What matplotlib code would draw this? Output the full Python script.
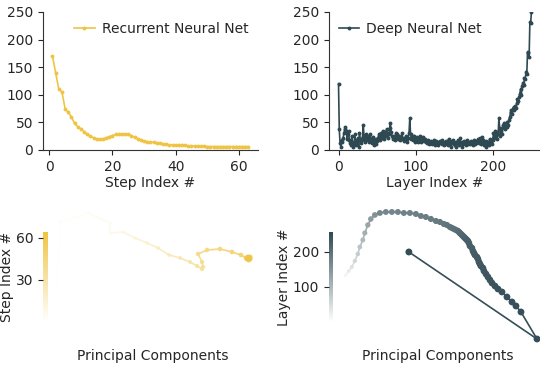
import numpy as np
import matplotlib
matplotlib.use('Agg')
import matplotlib.pyplot as plt
from matplotlib.collections import LineCollection
from matplotlib.colors import LinearSegmentedColormap, Normalize
from matplotlib.cm import ScalarMappable

rnn_color = '#efc445'
dnn_color = '#2f4953'

# step sizes of the recurrent net (steps 1..63)
rnn_steps = list(range(1, 64))
rnn_dist = [170, 140, 110, 105, 75, 68, 60, 48, 42, 38,
            33, 28, 25, 22, 20, 19, 20, 22, 24, 26,
            28, 29, 29, 29, 28, 26, 23, 20, 18, 16,
            15, 14, 14, 13, 12, 11, 10, 9, 9, 8,
            8, 8, 8, 7, 7, 7, 7, 7, 7, 6,
            6, 6, 6, 6, 6, 6, 6, 6, 6, 6,
            6, 6, 6]

# step sizes of the deep net (layers 0..249)
dnn_layers = list(range(250))
dnn_dist = [120, 37, 12, 6, 18, 15, 22, 30, 38, 41,
            35, 20, 28, 34, 18, 12, 8, 25, 14, 5,
            10, 28, 18, 8, 14, 22, 6, 30, 20, 12,
            18, 24, 45, 22, 15, 28, 18, 20, 25, 14,
            22, 28, 16, 12, 24, 18, 8, 14, 10, 20,
            16, 22, 28, 18, 25, 30, 22, 35, 28, 20,
            32, 26, 38, 30, 22, 28, 40, 48, 32, 25,
            20, 26, 22, 18, 30, 24, 28, 20, 25, 22,
            18, 24, 30, 20, 16, 22, 18, 25, 20, 15,
            22, 30, 58, 28, 20, 25, 18, 22, 26, 14,
            18, 24, 20, 15, 22, 26, 18, 14, 20, 24,
            16, 20, 18, 14, 12, 16, 18, 10, 14, 16,
            12, 10, 14, 18, 8, 12, 16, 10, 14, 8,
            12, 16, 14, 10, 18, 12, 8, 14, 10, 16,
            12, 8, 20, 14, 10, 6, 16, 12, 18, 10,
            8, 14, 6, 12, 18, 10, 8, 22, 12, 14,
            6, 10, 16, 12, 8, 14, 18, 10, 12, 14,
            10, 16, 12, 8, 14, 18, 10, 12, 16, 14,
            20, 12, 22, 16, 10, 24, 18, 14, 8, 12,
            6, 16, 10, 14, 8, 20, 12, 15, 10, 18,
            30, 22, 35, 26, 20, 32, 28, 57, 40, 25,
            35, 28, 45, 40, 48, 38, 44, 42, 50, 45,
            55, 60, 68, 72, 65, 75, 78, 72, 80, 76,
            85, 92, 88, 95, 102, 110, 100, 115, 122, 118,
            130, 128, 142, 138, 178, 175, 168, 232, 230, 250]

# PCA trajectory of the recurrent net (sampled steps)
rnn_pc_step = [1, 2, 3, 5, 7, 10, 13, 16, 19, 22, 25, 28, 31, 33, 35, 37, 39,
               41, 43, 45, 47, 49, 51,
               52, 53, 54, 55, 56, 57, 58, 59, 60, 61, 62, 63]
rnn_pc1 = [-93, -90, -62, -40, -40, -27, -15, -3, 8, 19, 30, 40, 47, 52, 53, 52, 48,
           57, 70, 82, 91, 96, 99,
           100, 98, 97, 99, 100, 98, 97, 99, 100, 98, 99, 98]
rnn_pc2 = [-15, 48, 57, 47, 37, 38, 32, 27, 22, 15, 12, 8, 4, 1, 3, 8, 16,
           20, 21, 18, 15, 12, 11,
           13, 12, 11, 10, 11, 13, 12, 12, 12, 11, 12, 12]

# PCA trajectory of the deep net (sampled layers)
dnn_pc_layer = [0, 14, 28, 42, 56, 70, 84, 98, 112, 126, 140, 154, 168,
                169, 171, 173, 175, 177, 179, 181, 183, 185, 187, 189, 191, 193, 195,
                197, 199, 201, 203, 205, 207, 209, 211, 213, 215, 217, 219, 221, 223,
                224, 225, 226, 227, 228, 229, 230, 231, 232, 233, 234, 235, 236, 237,
                238, 239, 240, 241, 242, 243, 244, 245, 246, 247, 248, 249]
dnn_pc1 = [-97, -94, -91, -88, -85, -82, -80, -77, -75, -72, -69, -65, -60,
           -54, -48, -42, -36, -30, -24, -19, -14, -9, -4, 0, 4, 7, 10,
           12, 14, 16, 18, 19, 20, 21, 22, 23, 24, 25, 26, 27, 28,
           29, 30, 32, 33, 34, 35, 37, 38, 39, 40, 41, 43, 44, 46,
           48, 50, 52, 55, 58, 62, 67, 72, 76, 81, 97, -31]
dnn_pc2 = [22, 25, 29, 33, 39, 46, 53, 60, 67, 75, 81, 85, 87,
           88, 88, 88, 87, 87, 86, 84, 83, 81, 79, 78, 76, 75, 73,
           72, 71, 70, 69, 68, 67, 66, 65, 64, 63, 62, 61, 60, 59,
           57, 54, 52, 49, 47, 45, 43, 41, 38, 36, 34, 32, 29, 26,
           23, 20, 17, 14, 11, 8, 3, -2, -6, -12, -39, 48]

plt.rcParams['font.size'] = 10
plt.rcParams['text.color'] = '#262626'
plt.rcParams['axes.labelcolor'] = '#262626'
plt.rcParams['xtick.color'] = '#262626'
plt.rcParams['ytick.color'] = '#262626'
plt.rcParams['axes.edgecolor'] = '#333333'

fig = plt.figure(figsize=(5.4, 3.72), dpi=100)


def line_panel(rect, x, y, color, label, xlabel, loc):
    ax = fig.add_axes(rect)
    ax.plot(x, y, '-o', color=color, lw=1.2, ms=1.8, label=label)
    ax.set_ylim(0, 250)
    ax.set_yticks([0, 50, 100, 150, 200, 250])
    ax.set_xlabel(xlabel, labelpad=2)
    ax.spines['top'].set_visible(False)
    ax.spines['right'].set_visible(False)
    ax.legend(loc=loc, frameon=False, handlelength=1.5, handletextpad=0.5,
              borderaxespad=0.3)
    return ax


ax1 = line_panel([0.079, 0.597, 0.399, 0.371], rnn_steps, rnn_dist, rnn_color,
                 'Recurrent Neural Net', 'Step Index #', 'upper right')
ax1.set_xticks([0, 20, 40, 60])
ax2 = line_panel([0.609, 0.597, 0.393, 0.371], dnn_layers, dnn_dist, dnn_color,
                 'Deep Neural Net', 'Layer Index #', 'upper left')
ax2.set_xticks([0, 100, 200])


def pca_panel(rect, cax_rect, pc1, pc2, idx, color, vmax, ticks, ylabel, xlim, ylim, smin, sgain):
    cmap = LinearSegmentedColormap.from_list('fade', ['white', color])
    norm = Normalize(0, vmax)
    ax = fig.add_axes(rect)
    pts = np.column_stack([pc1, pc2])
    segs = np.stack([pts[:-1], pts[1:]], axis=1)
    idx = np.asarray(idx, dtype=float)
    lc = LineCollection(segs, cmap=cmap, norm=norm, linewidths=1.2)
    lc.set_array((idx[:-1] + idx[1:]) / 2)
    ax.add_collection(lc)
    sizes = smin + sgain * idx / vmax
    ax.scatter(pc1, pc2, c=idx, cmap=cmap, norm=norm, s=sizes, zorder=3, linewidths=0)
    ax.set_xlim(*xlim)
    ax.set_ylim(*ylim)
    ax.set_xticks([])
    ax.set_yticks([])
    for s in ax.spines.values():
        s.set_visible(False)
    ax.set_xlabel('Principal Components', labelpad=4)
    cax = fig.add_axes(cax_rect)
    cb = fig.colorbar(ScalarMappable(norm=norm, cmap=cmap), cax=cax)
    cb.outline.set_visible(False)
    cb.set_ticks(ticks)
    cax.yaxis.set_ticks_position('left')
    cax.yaxis.set_label_position('left')
    cb.set_label(ylabel, labelpad=1)
    return ax


pca_panel([0.093, 0.078, 0.381, 0.371], [0.080, 0.134, 0.009, 0.242],
          rnn_pc1, rnn_pc2, rnn_pc_step, rnn_color, 64, [30, 60], 'Step Index #',
          (-100, 106), (-73, 65), 4, 10)
pca_panel([0.620, 0.078, 0.380, 0.371], [0.609, 0.134, 0.008, 0.242],
          dnn_pc1, dnn_pc2, dnn_pc_layer, dnn_color, 256, [100, 200], 'Layer Index #',
          (-105, 100), (-43, 95), 5, 20)

fig.savefig('out.png', dpi=100)
